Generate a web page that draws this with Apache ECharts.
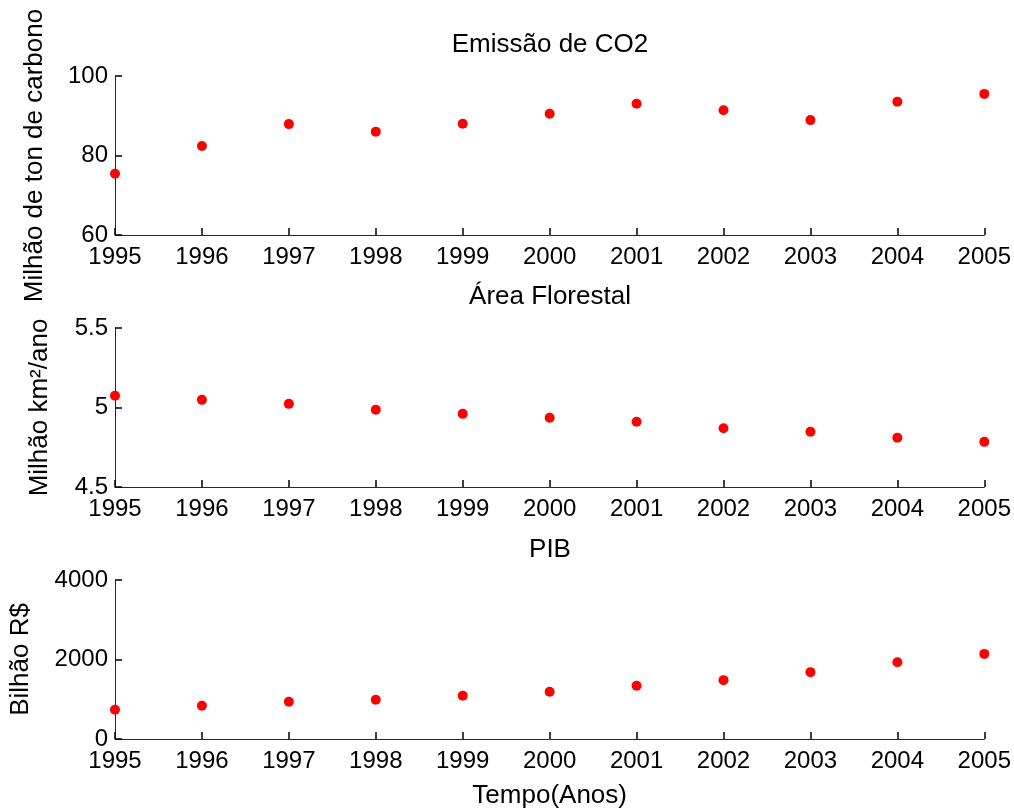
<!DOCTYPE html>
<html>
<head>
<meta charset="utf-8">
<script src="https://cdn.jsdelivr.net/npm/echarts@6/dist/echarts.min.js"></script>
<style>
  html, body { margin: 0; padding: 0; background: #fff; }
  #chart { width: 1014px; height: 810px; }
</style>
</head>
<body>
<div id="chart"></div>
<script>
// Annual series, 1995–2005
const years = [1995, 1996, 1997, 1998, 1999, 2000, 2001, 2002, 2003, 2004, 2005];
const co2 = [75.4, 82.4, 87.9, 86.0, 88.0, 90.5, 93.0, 91.4, 88.9, 93.5, 95.5];          // Milhão de ton de carbono
const forest = [5.074, 5.048, 5.023, 4.986, 4.960, 4.935, 4.910, 4.870, 4.847, 4.810, 4.784]; // Milhão km²/ano
const pib = [735, 836, 936, 986, 1087, 1187, 1338, 1481, 1682, 1933, 2141];              // Bilhão R$

const titles = ['Emissão de CO2', 'Área Florestal', 'PIB'];
const yNames = ['Milhão de ton de carbono', 'Milhão km²/ano', 'Bilhão R$'];
const xName = 'Tempo(Anos)';

const FONT = "'Liberation Sans', Arial, sans-serif";
const FS = 24;      // tick labels
const FS_T = 26;    // titles and axis names
const AXIS_COLOR = '#262626';

const gridTops = [76, 328, 580];
const gridH = 159;
const yScales = [
  { min: 60, max: 100, interval: 20 },
  { min: 4.5, max: 5.5, interval: 0.5 },
  { min: 0, max: 4000, interval: 2000 }
];
const yNameGaps = [67, 62, 81];
const seriesData = [co2, forest, pib];

const grids = gridTops.map(t => ({ left: 115, right: 29, top: t, height: gridH }));

function makeTick() {
  return { show: true, inside: true, length: 7, lineStyle: { color: '#000', width: 1.5 } };
}

const xAxes = gridTops.map((t, i) => ({
  type: 'value', gridIndex: i, min: years[0], max: years[years.length - 1], interval: 1,
  name: i === 2 ? xName : '', nameLocation: 'middle', nameGap: 44,
  nameTextStyle: { fontFamily: FONT, fontSize: FS_T, color: '#000' },
  axisLine: { show: true, onZero: false, lineStyle: { color: AXIS_COLOR, width: 1 } },
  axisTick: makeTick(),
  axisLabel: { fontFamily: FONT, fontSize: FS, color: '#000', margin: 10, formatter: v => String(v) },
  splitLine: { show: false }
}));

const yAxes = yScales.map((s, i) => ({
  type: 'value', gridIndex: i, min: s.min, max: s.max, interval: s.interval,
  name: yNames[i], nameLocation: 'middle', nameGap: yNameGaps[i], nameRotate: 90,
  nameTextStyle: { fontFamily: FONT, fontSize: FS_T, color: '#000' },
  axisLine: { show: true, onZero: false, lineStyle: { color: AXIS_COLOR, width: 1 } },
  axisTick: makeTick(),
  axisLabel: { fontFamily: FONT, fontSize: FS, color: '#000', margin: 7, formatter: v => String(v) },
  splitLine: { show: false }
}));

const series = seriesData.map((d, i) => ({
  type: 'scatter', xAxisIndex: i, yAxisIndex: i,
  data: years.map((y, k) => [y, d[k]]),
  symbol: 'circle', symbolSize: 10,
  itemStyle: { color: '#ff0000', opacity: 1 },
  clip: false,
  z: 3
}));

const titleTops = [32, 284, 537];
const titleOpts = titles.map((t, i) => ({
  text: t, left: 550, top: titleTops[i], textAlign: 'center', padding: 0,
  textStyle: { fontFamily: FONT, fontSize: FS_T, fontWeight: 'normal', color: '#000' }
}));

const chart = echarts.init(document.getElementById('chart'), null, { renderer: 'canvas' });
chart.setOption({
  backgroundColor: '#fff',
  animation: false,
  title: titleOpts,
  grid: grids,
  xAxis: xAxes,
  yAxis: yAxes,
  series: series
});
</script>
</body>
</html>
